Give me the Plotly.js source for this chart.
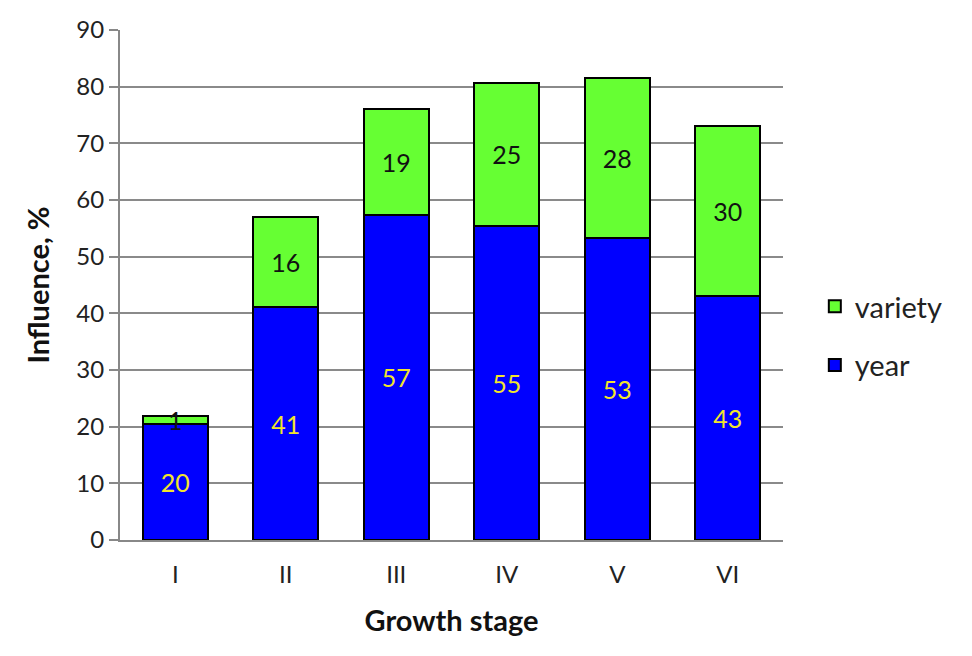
<!DOCTYPE html>
<html>
<head>
<meta charset="utf-8">
<script src="https://cdn.plot.ly/plotly-3.0.1.min.js"></script>
<style>
  html, body { margin: 0; padding: 0; background: #fff; }
  #chart { width: 972px; height: 656px; }
</style>
</head>
<body>
<div id="chart"></div>
<script>
// growth stages and the two influence components (%)
const stages = ["I", "II", "III", "IV", "V", "VI"];
const yearVals = [20.4, 41.1, 57.4, 55.4, 53.3, 43.0];
const varietyVals = [1.4, 15.9, 18.6, 25.3, 28.3, 30.1];
const yearLabels = ["20", "41", "57", "55", "53", "43"];
const varietyLabels = ["1", "16", "19", "25", "28", "30"];

const font = "Lato, Calibri, 'Open Sans', sans-serif";

const data = [
  {
    type: "bar", name: "year", x: stages, y: yearVals,
    text: yearLabels, textposition: "inside", insidetextanchor: "middle",
    constraintext: "none", textangle: 0,
    textfont: { color: "#f2e52c", size: 25, family: font },
    marker: { color: "#0000ff", line: { color: "#000", width: 2 } },
    legendgroup: "year", legendrank: 2, hoverinfo: "x+y"
  },
  {
    type: "bar", name: "variety", x: stages, y: varietyVals,
    text: varietyLabels, textposition: "inside", insidetextanchor: "middle",
    constraintext: "none", textangle: 0,
    textfont: { color: "#111", size: 25, family: font },
    marker: { color: "#66ff33", line: { color: "#000", width: 2 } },
    legendgroup: "variety", legendrank: 1, hoverinfo: "x+y"
  }
];

const layout = {
  width: 972, height: 656,
  margin: { l: 120, r: 189, t: 30, b: 116 },
  barmode: "stack",
  bargap: 0.41,
  paper_bgcolor: "#fff", plot_bgcolor: "#fff",
  font: { family: font, size: 24, color: "#222" },
  xaxis: {
    showline: true, linecolor: "#888", linewidth: 2,
    ticks: "", tickfont: { size: 24 }, showgrid: false,
    ticklabelstandoff: 12,
    title: { text: "<b>Growth stage</b>", font: { size: 29, color: "#111" }, standoff: 24 }
  },
  yaxis: {
    range: [0, 90], dtick: 10,
    showline: true, linecolor: "#888", linewidth: 2,
    ticks: "outside", ticklen: 9, tickwidth: 2, tickcolor: "#888",
    gridcolor: "#8a8a8a", gridwidth: 2,
    zeroline: false,
    tickfont: { size: 24 },
    title: { text: "<b>Influence, %</b>", font: { size: 29, color: "#111" }, standoff: 18 }
  },
  legend: {
    x: 1.048, y: 0.40, xanchor: "left", yanchor: "middle",
    traceorder: "grouped",
    font: { size: 29, color: "#222" },
    tracegroupgap: 18, bgcolor: "rgba(0,0,0,0)"
  },
  showlegend: true
};

Plotly.newPlot("chart", data, layout, { displayModeBar: false, staticPlot: true });
</script>
</body>
</html>
